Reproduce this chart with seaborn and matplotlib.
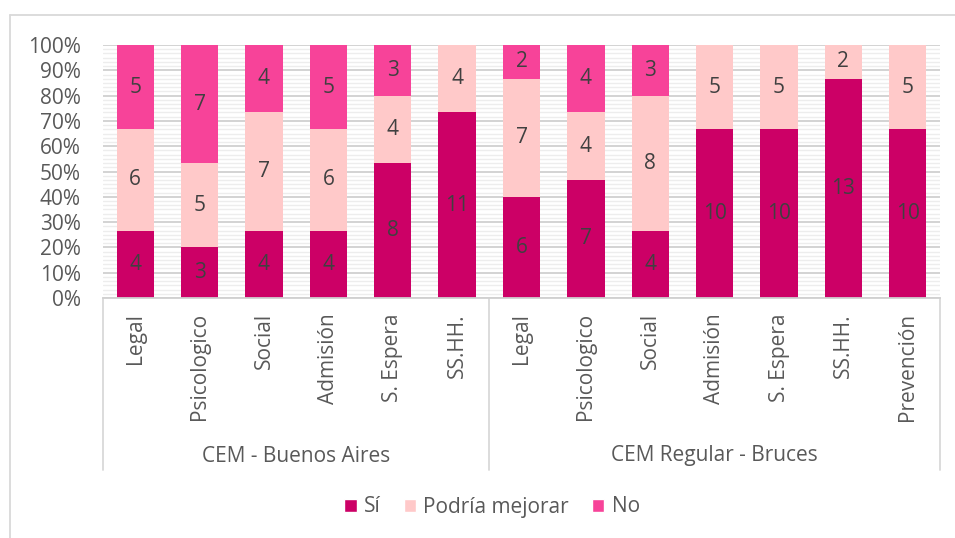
import numpy as np
import pandas as pd
import seaborn as sns
import matplotlib.pyplot as plt
from matplotlib.patches import Patch
from matplotlib.lines import Line2D

# data
groups = ["CEM - Buenos Aires"] * 6 + ["CEM Regular - Bruces"] * 7
services = ["Legal", "Psicologico", "Social", "Admisión", "S. Espera", "SS.HH.",
            "Legal", "Psicologico", "Social", "Admisión", "S. Espera", "SS.HH.", "Prevención"]
si = [4, 3, 4, 4, 8, 11, 6, 7, 4, 10, 10, 13, 10]
podria = [6, 5, 7, 6, 4, 4, 7, 4, 8, 5, 5, 2, 5]
no = [5, 7, 4, 5, 3, 0, 2, 4, 3, 0, 0, 0, 0]

series = ["Sí", "Podría mejorar", "No"]
colors = {"Sí": "#CC0066", "Podría mejorar": "#FFC9C9", "No": "#F74399"}

sns.set_style("white")
plt.rcParams["font.family"] = ["Open Sans", "DejaVu Sans"]

df = pd.DataFrame({"group": groups, "service": services,
                   "Sí": si, "Podría mejorar": podria, "No": no})
df["key"] = [f"{g}|{s}" for g, s in zip(groups, services)]
total = df["Sí"] + df["Podría mejorar"] + df["No"]
df["p_si"] = df["Sí"] / total * 100
df["p_pod"] = (df["Sí"] + df["Podría mejorar"]) / total * 100
df["p_all"] = 100.0

fig = plt.figure(figsize=(9.55, 5.38), dpi=100)
ax = fig.add_axes([103 / 955, 1 - 298 / 538, 837 / 955, 253 / 538])

order = list(df["key"])
w = 0.58
sns.barplot(data=df, x="key", y="p_all", order=order, color=colors["No"],
            width=w, saturation=1, ax=ax, linewidth=0)
sns.barplot(data=df, x="key", y="p_pod", order=order, color=colors["Podría mejorar"],
            width=w, saturation=1, ax=ax, linewidth=0)
sns.barplot(data=df, x="key", y="p_si", order=order, color=colors["Sí"],
            width=w, saturation=1, ax=ax, linewidth=0)

# segment labels
for i, row in df.iterrows():
    lo = 0
    for s in series:
        v = row[s]
        h = v / total[i] * 100
        if v > 0:
            ax.text(i, lo + h / 2, str(v), ha="center", va="center",
                    fontsize=15, color="#404040")
        lo += h

ax.set_xlim(-0.5, len(order) - 0.5)
ax.set_ylim(0, 100)
ax.set_yticks(np.arange(0, 101, 10))
ax.set_yticklabels([f"{t}%" for t in range(0, 101, 10)])
ax.set_yticks(np.arange(0, 100, 10 / 6), minor=True)
ax.grid(axis="y", which="minor", color="#EDEDED", linewidth=1.0)
ax.grid(axis="y", which="major", color="#D0D0D0", linewidth=1.3)
ax.set_axisbelow(True)
ax.tick_params(axis="y", which="both", length=0, labelsize=15, labelcolor="#595959", pad=16)
ax.tick_params(axis="x", length=0, labelsize=15, labelcolor="#595959", pad=11)
ax.set_xticks(range(len(order)))
ax.set_xticklabels(services, rotation=90, va="top")
ax.set_xlabel("")
ax.set_ylabel("")
for sp in ["left", "right", "top"]:
    ax.spines[sp].set_visible(False)
ax.spines["bottom"].set_color("#D0D0D0")
ax.spines["bottom"].set_linewidth(1.3)

# category group boxes
trans = ax.get_xaxis_transform()
bot = -(470 - 298) / 253
for xs in [-0.5, 5.5, 12.5]:
    ax.add_line(Line2D([xs, xs], [0, bot], transform=trans, color="#D9D9D9",
                       linewidth=1.3, clip_on=False))
ax.text(2.5, -(456 - 298) / 253, "CEM - Buenos Aires", transform=trans,
        ha="center", va="center", fontsize=15, color="#595959")
ax.text(9.0, -(456 - 298) / 253, "CEM Regular - Bruces", transform=trans,
        ha="center", va="center", fontsize=15, color="#595959")

# outer chart border
fig.add_artist(Line2D([10 / 955, 1], [1 - 15 / 538] * 2, transform=fig.transFigure,
                      color="#D9D9D9", linewidth=1.3))
fig.add_artist(Line2D([10 / 955] * 2, [0, 1 - 15 / 538], transform=fig.transFigure,
                      color="#D9D9D9", linewidth=1.3))

handles = [Patch(facecolor=colors[s], label=s) for s in series]
fig.legend(handles=handles, loc="center", bbox_to_anchor=(492 / 955, 1 - 507 / 538),
           ncol=3, frameon=False, fontsize=15, handlelength=0.6, handleheight=0.6,
           handletextpad=0.35, columnspacing=1.1, labelcolor="#595959")

fig.savefig("out.png", dpi=100)
